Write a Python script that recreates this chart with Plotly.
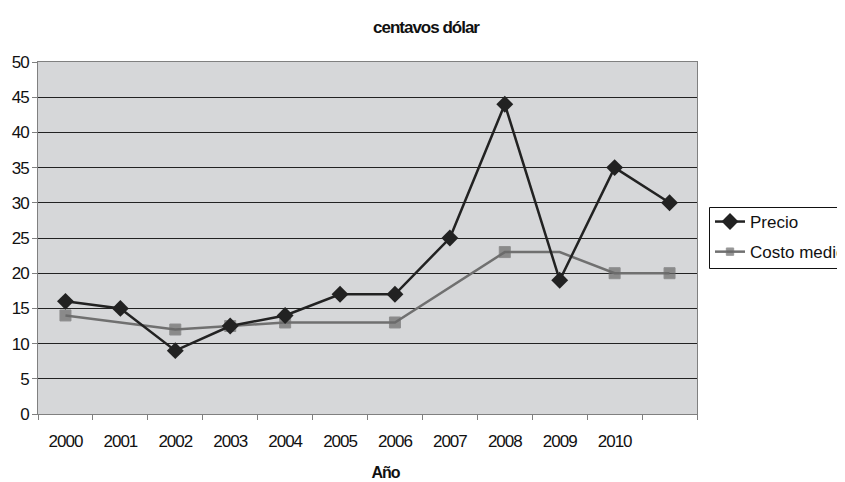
import plotly.graph_objects as go

years = ["2000", "2001", "2002", "2003", "2004", "2005", "2006", "2007", "2008", "2009", "2010", " "]
precio = [16, 15, 9, 12.5, 14, 17, 17, 25, 44, 19, 35, 30]
costo_medio = [14, None, 12, 12.5, 13, None, 13, None, 23, 23, 20, 20]
costo_marker_size = [11, 0, 11, 11, 11, 0, 11, 0, 11, 0, 11, 11]

L, T, PW, PH = 30, 54, 659, 352
W, H = 870, 482


def px_x(x):  # figure pixel -> paper x
    return (x - L) / PW


def px_y(y):  # figure pixel -> paper y
    return (T + PH - y) / PH


fig = go.Figure()
fig.add_trace(go.Scatter(
    x=years, y=costo_medio, name="Costo medio", mode="lines+markers",
    connectgaps=True, legendrank=2, legendgroup="b",
    line=dict(color="#707070", width=2.5),
    marker=dict(symbol="square", size=costo_marker_size, color="#6a6a6a"),
))
fig.add_trace(go.Scatter(
    x=years, y=precio, name="Precio", mode="lines+markers", legendrank=1, legendgroup="a",
    line=dict(color="#222222", width=2.5),
    marker=dict(symbol="diamond", size=13, color="#222222"),
))

font = "Liberation Sans, Arial, sans-serif"
fig.update_layout(
    width=W, height=H,
    margin=dict(l=L, r=W - L - PW, t=T, b=H - T - PH, autoexpand=False),
    paper_bgcolor="white", plot_bgcolor="#d6d7d9",
    font=dict(family=font, size=17, color="#111111"),
    showlegend=True,
    legend=dict(x=px_x(702), y=px_y(196), xanchor="left", yanchor="top",
                borderwidth=0, bgcolor="rgba(0,0,0,0)",
                font=dict(size=17, family=font), traceorder="grouped",
                tracegroupgap=5, itemwidth=30),
    xaxis=dict(type="category", tickson="boundaries", ticks="outside", ticklen=5,
               tickcolor="#808080", showline=True, linecolor="#808080", linewidth=1,
               mirror=True, showgrid=False, ticklabelstandoff=12, automargin=False,
               tickfont=dict(size=17), range=[-0.5, 11.5]),
    yaxis=dict(range=[0, 50], dtick=5, ticks="outside", ticklen=5, tickcolor="#808080",
               showline=True, linecolor="#808080", linewidth=1, mirror=True,
               showgrid=True, gridcolor="#222222", gridwidth=1, zeroline=False,
               automargin=False, tickfont=dict(size=17)),
    shapes=[dict(type="rect", xref="paper", yref="paper",
                 x0=px_x(701.5), x1=px_x(866), y0=px_y(199.5), y1=px_y(260.5),
                 line=dict(color="#111111", width=1), fillcolor="white", layer="below")],
    annotations=[
        dict(text="<b>centavos dólar</b>", x=px_x(418), y=px_y(20),
             xref="paper", yref="paper", showarrow=False, xanchor="center", yanchor="middle",
             font=dict(size=17, family=font, color="#111111")),
        dict(text="<b>Año</b>", x=px_x(377), y=px_y(464),
             xref="paper", yref="paper", showarrow=False, xanchor="center", yanchor="middle",
             font=dict(size=16, family=font, color="#111111")),
    ],
)

post = """
document.documentElement.style.overflow='hidden';
document.body.style.overflow='hidden';
document.querySelectorAll('svg text').forEach(function(t){
  if (!t.classList.contains('legendtext')) { t.style.letterSpacing='-1px'; }
});
"""
fig.write_html("out.html", post_script=post)
